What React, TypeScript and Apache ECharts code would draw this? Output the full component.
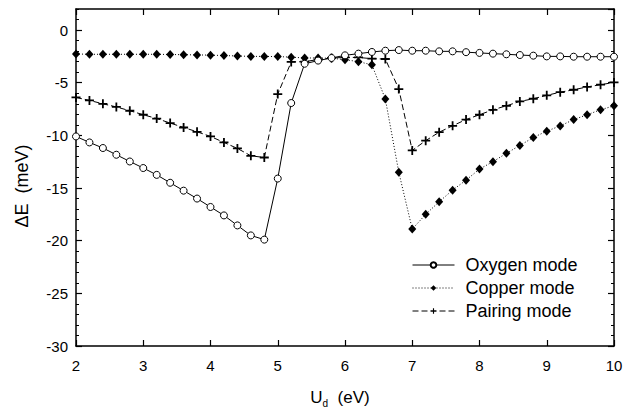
import React, { useEffect, useRef } from "react";
import * as echarts from "echarts";

// On-site Coulomb repulsion U_d (eV)
const ud = [
  2.0, 2.2, 2.4, 2.6, 2.8, 3.0, 3.2, 3.4, 3.6, 3.8, 4.0, 4.2, 4.4, 4.6, 4.8,
  5.0, 5.2, 5.4, 5.6, 5.8, 6.0, 6.2, 6.4, 6.6, 6.8,
  7.0, 7.2, 7.4, 7.6, 7.8, 8.0, 8.2, 8.4, 8.6, 8.8, 9.0, 9.2, 9.4, 9.6, 9.8, 10.0,
];

// Energy shift ΔE (meV) for each mode
const oxygenMode = [
  -10.1, -10.67, -11.2, -11.84, -12.48, -13.1, -13.75, -14.5, -15.25, -16.0, -16.8, -17.6, -18.55, -19.5, -19.9,
  -14.1, -6.93, -3.2, -2.9, -2.65, -2.4, -2.24, -2.08, -1.96, -1.9,
  -1.96, -1.96, -2.02, -2.02, -2.1, -2.17, -2.24, -2.3, -2.37, -2.43, -2.5, -2.5, -2.53, -2.53, -2.53, -2.53,
];

const copperMode = [
  -2.27, -2.3, -2.3, -2.3, -2.3, -2.3, -2.3, -2.32, -2.34, -2.36, -2.38, -2.42, -2.46, -2.5, -2.5,
  -2.52, -2.57, -2.65, -2.65, -2.68, -2.81, -3.0, -3.3, -6.55, -13.5,
  -18.9, -17.5, -16.3, -15.2, -14.25, -13.2, -12.5, -11.7, -10.96, -10.2, -9.6, -9.1, -8.5, -8.04, -7.57, -7.19,
];

const pairingMode = [
  -6.4, -6.68, -7.0, -7.3, -7.66, -8.04, -8.4, -8.83, -9.25, -9.66, -10.1, -10.67, -11.24, -11.94, -12.1,
  -6.08, -3.03, -3.0, -2.8, -2.65, -2.6, -2.6, -2.72, -2.75, -5.6,
  -11.43, -10.5, -9.7, -9.09, -8.5, -8.04, -7.57, -7.19, -6.78, -6.52, -6.2, -5.9, -5.67, -5.4, -5.19, -4.97,
];

const seriesNames = ["Oxygen mode", "Copper mode", "Pairing mode"];

const FONT = "Liberation Sans, Arial, Helvetica, sans-serif";
const PLUS = "path://M4,0 H6 V4 H10 V6 H6 V10 H4 V6 H0 V4 H4 Z";

const pairs = (ys: number[]) => ud.map((x, i) => [x, ys[i]]);

const frameLine = { show: true, onZero: false, lineStyle: { color: "#000", width: 1.5 } };

export default function App() {
  const ref = useRef<HTMLDivElement>(null);

  useEffect(() => {
    if (!ref.current) return;
    const chart = echarts.init(ref.current, undefined, { renderer: "svg" });

    const xBase = {
      type: "value" as const,
      min: 2,
      max: 10,
      interval: 1,
      axisLine: frameLine,
      splitLine: { show: false },
      axisTick: { show: true, inside: true, length: 6, lineStyle: { color: "#000", width: 1.2 } },
    };
    const yMajor = {
      type: "value" as const,
      min: -30,
      max: 2,
      interval: 5,
      axisLine: frameLine,
      splitLine: { show: false },
      axisTick: { show: true, inside: true, length: 6, lineStyle: { color: "#000", width: 1.2 } },
    };
    const yMinor = {
      type: "value" as const,
      min: -30,
      max: 2,
      interval: 1,
      axisLine: { show: false, onZero: false },
      splitLine: { show: false },
      axisLabel: { show: false },
      axisTick: { show: true, inside: true, length: 3, lineStyle: { color: "#000", width: 1 } },
    };

    chart.setOption({
      animation: false,
      backgroundColor: "#fff",
      textStyle: { fontFamily: FONT },
      grid: { left: 76, right: 22, top: 9, bottom: 64, containLabel: false },
      xAxis: [
        {
          ...xBase,
          position: "bottom",
          axisLabel: { show: true, color: "#000", fontSize: 15, fontFamily: FONT, margin: 12 },
        },
        { ...xBase, position: "top", axisLabel: { show: false } },
      ],
      yAxis: [
        {
          ...yMajor,
          position: "left",
          axisLabel: {
            show: true,
            color: "#000",
            fontSize: 15,
            fontFamily: FONT,
            margin: 8,
            showMaxLabel: false,
          },
        },
        { ...yMinor, position: "left" },
        { ...yMajor, position: "right", axisLabel: { show: false } },
        { ...yMinor, position: "right" },
      ],
      legend: {
        orient: "vertical",
        left: 412,
        top: 256,
        padding: 0,
        itemWidth: 42,
        itemHeight: 7,
        itemGap: 5,
        data: seriesNames,
        lineStyle: { width: 1 },
        textStyle: { color: "#000", fontSize: 18, fontFamily: FONT, padding: [0, 0, 0, 6] },
      },
      series: [
        {
          name: seriesNames[1],
          type: "line",
          data: pairs(copperMode),
          symbol: "diamond",
          symbolSize: [8, 9],
          itemStyle: { color: "#000" },
          lineStyle: { color: "#000", width: 1, type: [1, 2] },
          z: 3,
        },
        {
          name: seriesNames[2],
          type: "line",
          data: pairs(pairingMode),
          symbol: PLUS,
          symbolSize: 9,
          itemStyle: { color: "#000" },
          lineStyle: { color: "#000", width: 1, type: [6, 3] },
          z: 4,
        },
        {
          name: seriesNames[0],
          type: "line",
          data: pairs(oxygenMode),
          symbol: "circle",
          symbolSize: 7,
          itemStyle: { color: "#fff", borderColor: "#000", borderWidth: 1 },
          lineStyle: { color: "#000", width: 1 },
          z: 5,
        },
      ],
      graphic: [
        {
          type: "text",
          x: 22,
          y: 186,
          rotation: Math.PI / 2,
          style: {
            text: "ΔE  (meV)",
            fill: "#000",
            font: `18px ${FONT}`,
            align: "center",
            verticalAlign: "middle",
          },
        },
        {
          type: "text",
          x: 340,
          y: 397,
          style: {
            text: "{u|U}{s|d}{u|  (eV)}",
            fill: "#000",
            align: "center",
            verticalAlign: "middle",
            rich: {
              u: { fontSize: 17, fontFamily: FONT, fill: "#000", lineHeight: 22 },
              s: { fontSize: 10, fontFamily: FONT, fill: "#000", lineHeight: 22, verticalAlign: "bottom" },
            },
          },
        },
      ],
    });

    return () => chart.dispose();
  }, []);

  return (
    <div
      ref={ref}
      style={{ position: "absolute", left: 0, top: 0, width: 636, height: 410, background: "#fff" }}
    />
  );
}
